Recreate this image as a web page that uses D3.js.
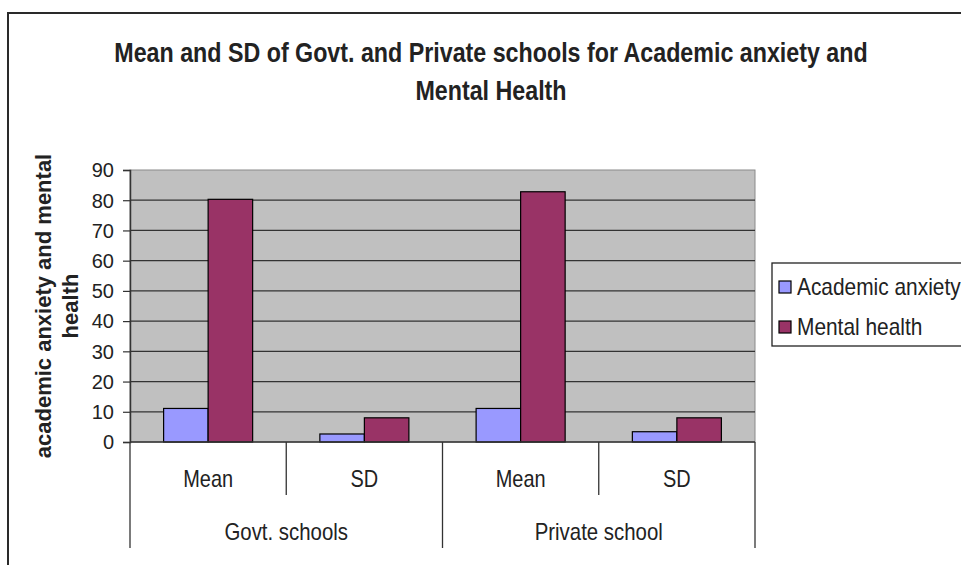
<!DOCTYPE html>
<html><head><meta charset="utf-8">
<script src="https://cdn.jsdelivr.net/npm/d3@7"></script>
<style>body{margin:0;background:#fff}svg{display:block}text{font-family:"Liberation Sans",Arial,sans-serif;fill:#222}</style>
</head><body>
<svg id="c" width="961" height="565"></svg>
<script>
const groups = ["Govt. schools", "Private school"];
const subCategories = ["Mean", "SD"];
const seriesNames = ["Academic anxiety", "Mental health"];
const academicAnxiety = [11.1, 2.65, 11.1, 3.4];
const mentalHealth = [80.3, 8.0, 82.8, 8.0];
const yTicks = [0, 10, 20, 30, 40, 50, 60, 70, 80, 90];
const colors = ["#9999ff", "#993366"];
const titleLines = ["Mean and SD of Govt. and Private schools for Academic anxiety and", "Mental Health"];
const yTitleLines = ["academic anxiety and mental", "health"];

const rows = [];
groups.forEach((g, gi) => subCategories.forEach((s, si) => {
  const i = gi * subCategories.length + si;
  rows.push({key: g + "|" + s, group: g, sub: s, values: [academicAnxiety[i], mentalHealth[i]]});
}));

const svg = d3.select("#c");
const L = 130, R = 755, T = 170, B = 442;

function squeeze(sel, k) {
  sel.each(function() {
    const w = this.getComputedTextLength();
    d3.select(this).attr("textLength", w * k).attr("lengthAdjust", "spacingAndGlyphs");
  });
}

// frame
svg.append("path").attr("d", "M8,566V13H962").attr("fill", "none").attr("stroke", "#2a2a2a").attr("stroke-width", 2);

// title
const title = svg.append("g");
titleLines.forEach((t, i) => {
  title.append("text").attr("x", 491).attr("y", 62 + i * 38).attr("text-anchor", "middle")
    .attr("font-size", 28).attr("font-weight", "bold").text(t).call(squeeze, 0.83);
});

const x0 = d3.scaleBand().domain(rows.map(d => d.key)).range([L, R]).padding(0);
const x1 = d3.scaleBand().domain(seriesNames).range([0, x0.bandwidth()]).paddingInner(0).paddingOuter(0.755);
const y = d3.scaleLinear().domain([0, 90]).range([B, T]);

// plot background
svg.append("rect").attr("x", L).attr("y", T).attr("width", R - L).attr("height", B - T)
  .attr("fill", "#c0c0c0").attr("stroke", "#8a8a8a").attr("stroke-width", 1);

// gridlines
svg.append("g").selectAll("line").data(yTicks.filter(v => v > 0 && v < 90)).join("line")
  .attr("x1", L).attr("x2", R).attr("y1", d => y(d)).attr("y2", d => y(d))
  .attr("stroke", "#333").attr("stroke-width", 1.2);

// bars
const bars = svg.append("g").selectAll("g").data(rows).join("g").attr("transform", d => `translate(${x0(d.key)},0)`);
bars.selectAll("rect").data(d => d.values.map((v, i) => ({name: seriesNames[i], v, i}))).join("rect")
  .attr("x", d => x1(d.name)).attr("width", x1.bandwidth())
  .attr("y", d => y(d.v)).attr("height", d => B - y(d.v))
  .attr("fill", d => colors[d.i]).attr("stroke", "#000").attr("stroke-width", 1.2);

// y axis
const yAxis = svg.append("g").attr("transform", `translate(${L},0)`)
  .call(d3.axisLeft(y).tickValues(yTicks).tickSize(7).tickPadding(9).tickFormat(d3.format("d")));
yAxis.select(".domain").attr("stroke", "#333").attr("stroke-width", 1.5);
yAxis.selectAll(".tick line").attr("stroke", "#333").attr("stroke-width", 1.2);
yAxis.selectAll("text").attr("font-size", 20).attr("fill", "#222").attr("font-family", '"Liberation Sans",Arial,sans-serif').attr("dy", "0.34em");

// x axis line
svg.append("line").attr("x1", L).attr("x2", R).attr("y1", B).attr("y2", B).attr("stroke", "#333").attr("stroke-width", 1.5);

// category dividers
const divs = [];
rows.forEach((d, i) => {
  divs.push({x: x0(d.key), full: i % subCategories.length === 0});
});
divs.push({x: R, full: true});
svg.append("g").selectAll("line").data(divs).join("line")
  .attr("x1", d => d.x).attr("x2", d => d.x).attr("y1", B).attr("y2", d => d.full ? 548 : 495)
  .attr("stroke", "#333").attr("stroke-width", 1.3);

// sub labels
svg.append("g").selectAll("text").data(rows).join("text")
  .attr("x", d => x0(d.key) + x0.bandwidth() / 2).attr("y", 487).attr("text-anchor", "middle")
  .attr("font-size", 24).text(d => d.sub).call(squeeze, 0.83);

// group labels
svg.append("g").selectAll("text").data(groups).join("text")
  .attr("x", g => {
    const ks = rows.filter(r => r.group === g).map(r => r.key);
    return (x0(ks[0]) + x0(ks[ks.length - 1]) + x0.bandwidth()) / 2;
  })
  .attr("y", 540).attr("text-anchor", "middle").attr("font-size", 24).text(g => g).call(squeeze, 0.85);

// y title
const yt = svg.append("g");
yTitleLines.forEach((t, i) => {
  const cx = 43 + i * 27;
  yt.append("text").attr("transform", `translate(${cx},${(T + B) / 2}) rotate(-90)`)
    .attr("text-anchor", "middle").attr("dy", "0.35em").attr("font-size", 22).attr("font-weight", "bold").text(t);
});

// legend
const lg = svg.append("g");
lg.append("rect").attr("x", 772).attr("y", 263).attr("width", 200).attr("height", 83)
  .attr("fill", "#fff").attr("stroke", "#222").attr("stroke-width", 1.3);
seriesNames.forEach((n, i) => {
  const cy = 287 + i * 40;
  lg.append("rect").attr("x", 779).attr("y", cy - 6).attr("width", 12).attr("height", 12)
    .attr("fill", colors[i]).attr("stroke", "#000").attr("stroke-width", 1.2);
  lg.append("text").attr("x", 797).attr("y", cy + 8).attr("font-size", 24).text(n).call(squeeze, 0.87);
});
</script>
</body></html>
